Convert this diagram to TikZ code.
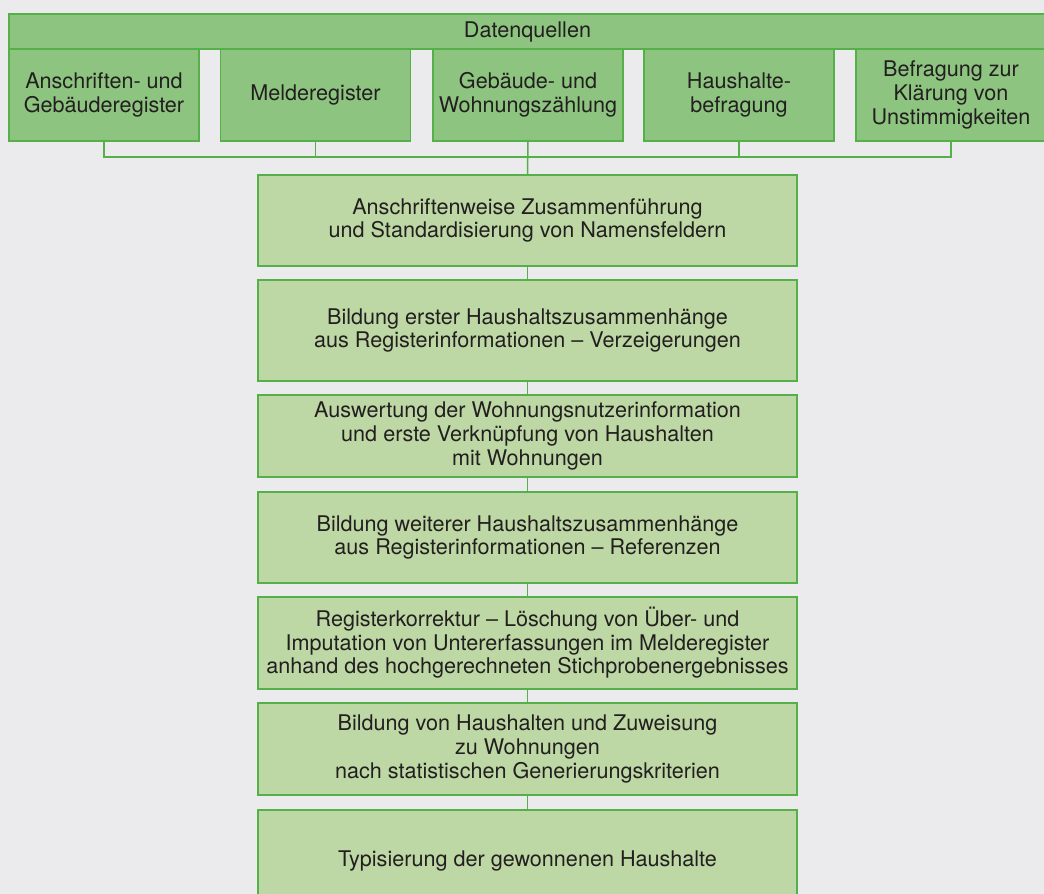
\documentclass[tikz,border=0pt]{standalone}
\usepackage{fontspec}
\setmainfont{TeX Gyre Heros}
\definecolor{bgc}{HTML}{EBEBED}
\definecolor{gborder}{HTML}{55B04A}
\definecolor{gdark}{HTML}{8DC47F}
\definecolor{glight}{HTML}{BDD8A4}
\definecolor{txt}{HTML}{231F20}
\begin{document}
\begin{tikzpicture}[x=1pt,y=-1pt,
  box/.style={draw=gborder, line width=1.6pt, inner sep=0pt, align=center, text=txt,
    font=\fontsize{21.6}{23.6}\selectfont},
  srcbox/.style={box, fill=gdark, minimum width=190pt, minimum height=92pt},
  hdrbox/.style={box, fill=gdark, minimum width=1037pt, minimum height=35pt},
  mainbox/.style={box, fill=glight, minimum width=539pt},
  conn/.style={draw=gborder, line width=1.5pt}]
\fill[bgc] (0,0) rectangle (1044,894);
\useasboundingbox (0,0) rectangle (1044,894);
\clip (0,0) rectangle (1044,894);

\node[hdrbox] (hdr) at (527.5,31.5) {Datenquellen};
\node[srcbox] (s1) at (104,95) {Anschriften- und\\Gebäuderegister};
\node[srcbox] (s2) at (315.5,95) {Melderegister};
\node[srcbox] (s3) at (528,95) {Gebäude- und\\Wohnungszählung};
\node[srcbox] (s4) at (739,95) {Haushalte-\\befragung};
\node[srcbox] (s5) at (951,95) {Befragung zur\\Klärung von\\Unstimmigkeiten};

\node[mainbox, minimum height=91pt] (m1) at (527.5,220.5) {Anschriftenweise Zusammenführung\\und Standardisierung von Namensfeldern};
\node[mainbox, minimum height=101pt] (m2) at (527.5,330.5) {Bildung erster Haushaltszusammenhänge\\aus Registerinformationen – Verzeigerungen};
\node[mainbox, minimum height=82pt] (m3) at (527.5,436) {Auswertung der Wohnungsnutzerinformation\\und erste Verknüpfung von Haushalten\\mit Wohnungen};
\node[mainbox, minimum height=91pt] (m4) at (527.5,537.5) {Bildung weiterer Haushaltszusammenhänge\\aus Registerinformationen – Referenzen};
\node[mainbox, minimum height=92pt] (m5) at (527.5,643) {Registerkorrektur – Löschung von Über- und\\Imputation von Untererfassungen im Melderegister\\anhand des hochgerechneten Stichprobenergebnisses};
\node[mainbox, minimum height=92pt] (m6) at (527.5,749) {Bildung von Haushalten und Zuweisung\\zu Wohnungen\\nach statistischen Generierungskriterien};
\node[mainbox, minimum height=102pt] (m7) at (527.5,861) {Typisierung der gewonnenen Haushalte};

\coordinate (bus) at (0,157);
\draw[conn] (s1.south) -- (s1.south |- bus) -- (s5.south |- bus) -- (s5.south);
\draw[conn] (s2.south) -- (s2.south |- bus);
\draw[conn] (s4.south) -- (s4.south |- bus);
\draw[conn] (s3.south) -- (m1.north);
\draw[conn] (m1.south) -- (m2.north);
\draw[conn] (m2.south) -- (m3.north);
\draw[conn] (m3.south) -- (m4.north);
\draw[conn] (m4.south) -- (m5.north);
\draw[conn] (m5.south) -- (m6.north);
\draw[conn] (m6.south) -- (m7.north);
\end{tikzpicture}
\end{document}
